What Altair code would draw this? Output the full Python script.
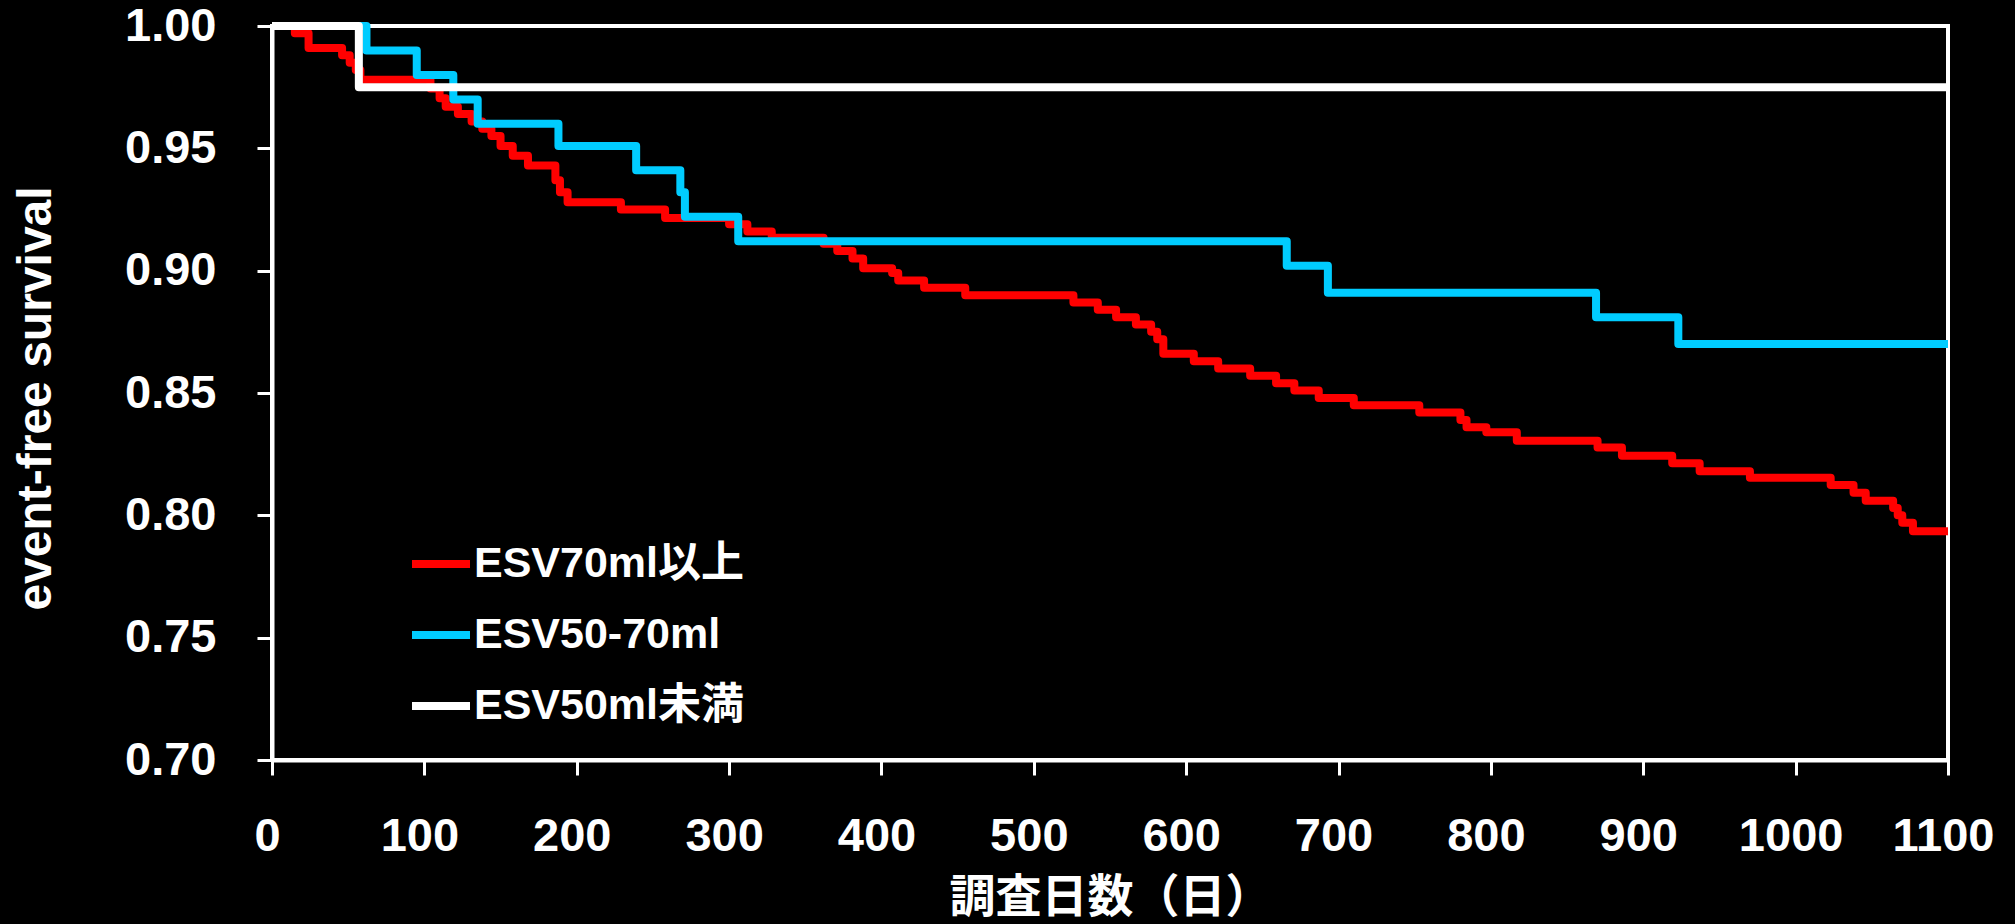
import altair as alt
import pandas as pd

# ---- data (Kaplan-Meier step points: day, survival after the drop) ----
series_names = ["ESV70ml以上", "ESV50-70ml", "ESV50ml未満"]
series_colors = ["#FF0000", "#00CCFF", "#FFFFFF"]

red_days = [0, 15, 24, 46, 51, 55, 58, 104, 110, 114, 122, 131, 138, 144, 150, 158, 168,
            186, 189, 194, 229, 258, 300, 312, 328, 362, 371, 381, 388, 407, 411, 428, 455,
            526, 542, 554, 567, 577, 581, 585, 605, 621, 642, 659, 671, 687, 710, 753, 780,
            784, 797, 817, 870, 886, 919, 937, 970, 1023, 1038, 1046, 1064, 1067, 1070, 1077, 1100]
red_surv = [1.000, 0.997, 0.991, 0.988, 0.985, 0.982, 0.978, 0.9745, 0.9705, 0.967, 0.964, 0.961,
            0.958, 0.955, 0.951, 0.947, 0.943, 0.937, 0.932, 0.928, 0.925, 0.9215, 0.919, 0.916,
            0.9135, 0.911, 0.908, 0.905, 0.901, 0.899, 0.896, 0.893, 0.890, 0.887, 0.884, 0.881,
            0.878, 0.875, 0.872, 0.866, 0.863, 0.860, 0.857, 0.854, 0.851, 0.848, 0.845, 0.842,
            0.839, 0.836, 0.834, 0.8305, 0.8277, 0.8244, 0.8213, 0.818, 0.8154, 0.8124, 0.8092,
            0.806, 0.803, 0.800, 0.797, 0.7935, 0.7935]

blue_days = [0, 62, 95, 119, 135, 188, 239, 268, 271, 306, 666, 693, 869, 923, 1100]
blue_surv = [1.000, 0.990, 0.980, 0.970, 0.960, 0.951, 0.941, 0.932, 0.922, 0.912, 0.902,
             0.891, 0.881, 0.870, 0.870]

white_days = [0, 57, 1100]
white_surv = [1.000, 0.975, 0.975]

x_ticks = [0, 100, 200, 300, 400, 500, 600, 700, 800, 900, 1000, 1100]
y_ticks = [0.70, 0.75, 0.80, 0.85, 0.90, 0.95, 1.00]

rows = []
for name, days, surv in [(series_names[0], red_days, red_surv),
                         (series_names[1], blue_days, blue_surv),
                         (series_names[2], white_days, white_surv)]:
    for d, s in zip(days, surv):
        rows.append({"group": name, "day": d, "surv": s})
df = pd.DataFrame(rows)

LATIN = "Liberation Sans, Arial, Noto Sans CJK JP, sans-serif"
CJK = "Noto Sans CJK JP, Liberation Sans, sans-serif"

chart = alt.Chart(df).mark_line(
    interpolate="step-after", strokeWidth=8, strokeJoin="round"
).encode(
    x=alt.X("day:Q",
            scale=alt.Scale(domain=[0, 1100], nice=False, zero=False),
            axis=alt.Axis(values=x_ticks, format="d", title="調査日数（日）",
                          grid=False, domainColor="white", domainWidth=4,
                          tickColor="white", tickWidth=3, tickSize=15,
                          labelColor="white", labelFont=LATIN, labelFontSize=47,
                          labelFontWeight="bold", labelPadding=38, labelOffset=-5,
                          labelFlush=False, labelOverlap=False,
                          titleColor="white", titleFont=CJK, titleFontSize=46,
                          titleFontWeight="bold", titleX=838, titleY=151,
                          titleAlign="center", titleBaseline="alphabetic")),
    y=alt.Y("surv:Q",
            scale=alt.Scale(domain=[0.70, 1.00], nice=False, zero=False),
            axis=alt.Axis(values=y_ticks, format=".2f", title="event-free survival",
                          grid=False, domainColor="white", domainWidth=4,
                          tickColor="white", tickWidth=3, tickSize=15,
                          labelColor="white", labelFont=LATIN, labelFontSize=47,
                          labelFontWeight="bold", labelPadding=41,
                          labelFlush=False, labelOverlap=False,
                          titleColor="white", titleFont=LATIN, titleFontSize=48,
                          titleFontWeight="bold", titleAngle=270, titleX=-222, titleY=372,
                          titleAlign="center", titleBaseline="alphabetic")),
    color=alt.Color("group:N",
                    scale=alt.Scale(domain=series_names, range=series_colors),
                    legend=alt.Legend(title=None, orient="none", legendX=136, legendY=505,
                                      symbolType="stroke", symbolSize=3364,
                                      symbolStrokeWidth=8, labelColor="white",
                                      labelFont=LATIN, labelFontSize=43,
                                      labelFontWeight="bold", labelOffset=0,
                                      rowPadding=16, padding=0, offset=0,
                                      labelLimit=600)),
    order=alt.Order("day:Q"),
).properties(
    width=1676,
    height=734,
    autosize=alt.AutoSizeParams(type="none"),
    padding={"left": 272, "top": 26, "right": 67, "bottom": 164},
    background="black",
).configure_view(
    stroke="white", strokeWidth=4, fill="black"
)

chart.save("out.html", embed_options={"renderer": "svg", "actions": False})
